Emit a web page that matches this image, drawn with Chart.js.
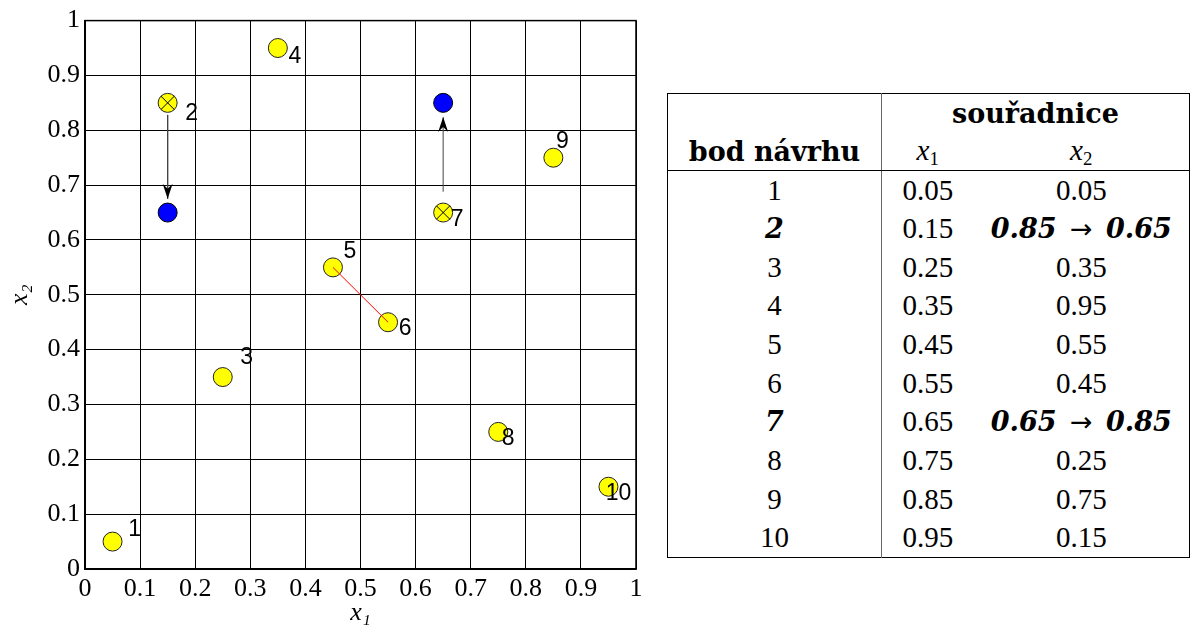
<!DOCTYPE html>
<html><head><meta charset="utf-8">
<script src="https://cdn.jsdelivr.net/npm/chart.js@4.4.1/dist/chart.umd.min.js"></script>
<style>
html,body{margin:0;padding:0;background:#fff;width:1195px;height:637px;overflow:hidden;}
#wrap{position:absolute;left:0;top:0;width:660px;height:637px;}
#tbl{position:absolute;left:667px;top:93px;width:523px;border-collapse:collapse;border:1.5px solid #000;
  font-family:"Liberation Serif","Times New Roman",serif;font-size:29px;color:#000;table-layout:fixed;}
#tbl td,#tbl th{padding:0;text-align:center;vertical-align:middle;white-space:nowrap;}
#tbl th{font-family:"DejaVu Serif",serif;font-weight:bold;font-size:27px;}
#tbl .c1{border-right:1.5px solid #666;}
#tbl tr.h1{height:40px;}
#tbl tr.h2{height:37px;}
#tbl tr.h2 th{border-bottom:1.5px solid #000;}
#tbl tr.h2 th.var{font-family:"Liberation Serif","Times New Roman",serif;font-weight:normal;font-size:29px;}
#tbl tbody tr{height:38.7px;}
#tbl .mv{font-family:"DejaVu Serif",serif;font-weight:bold;font-style:italic;font-size:27px;word-spacing:4px;}
#tbl .mv .ar{font-family:"DejaVu Sans",sans-serif;font-style:normal;font-weight:normal;}
sub{font-size:65%;vertical-align:-0.25em;}
</style></head>
<body>
<div id="wrap"><canvas id="c" width="660" height="637"></canvas></div>
<table id="tbl">
<colgroup><col style="width:214px"><col style="width:92px"><col></colgroup>
<thead>
<tr class="h1"><th class="c1"></th><th colspan="2">souřadnice</th></tr>
<tr class="h2"><th class="c1">bod návrhu</th><th class="var"><i>x</i><sub>1</sub></th><th class="var"><i>x</i><sub>2</sub></th></tr>
</thead>
<tbody id="tb"></tbody>
</table>
<script>
// ---- data ----
const pointNames = ['1','2','3','4','5','6','7','8','9','10'];
const x1Values = [0.05,0.15,0.25,0.35,0.45,0.55,0.65,0.75,0.85,0.95];
const x2Values = [0.05,0.85,0.35,0.95,0.55,0.45,0.65,0.25,0.75,0.15];
const movedIndex = [1, 6];          // points 2 and 7
const movedX2 = [0.65, 0.85];       // new x2 values
const arrowStartX2 = [0.828, 0.688];
const arrowEndX2 = [0.675, 0.824];
const linkedPair = [4, 5];          // points 5 and 6
const tickValues = [0,0.1,0.2,0.3,0.4,0.5,0.6,0.7,0.8,0.9,1];
const tickLabels = ['0','0.1','0.2','0.3','0.4','0.5','0.6','0.7','0.8','0.9','1'];

// ---- style (label pixel offsets) ----
const labelOffsetPx = [[22,-12],[24,11],[24,-19],[17,9],[17,-16],[17,6],[14,7],[10,7],[9,-16],[10,7]];

// ---- table ----
const tb = document.getElementById('tb');
pointNames.forEach((n,i)=>{
  const tr = document.createElement('tr');
  const k = movedIndex.indexOf(i);
  const td1 = document.createElement('td'); td1.className='c1';
  td1.textContent = n;
  if (k>=0) td1.classList.add('mv');
  const td2 = document.createElement('td'); td2.textContent = x1Values[i].toFixed(2);
  const td3 = document.createElement('td');
  if (k>=0){
    td3.className='mv';
    td3.append(x2Values[i].toFixed(2)+' ');
    const ar = document.createElement('span'); ar.className='ar'; ar.textContent='\u2192';
    td3.append(ar, ' '+movedX2[k].toFixed(2));
  } else td3.textContent = x2Values[i].toFixed(2);
  tr.append(td1,td2,td3); tb.appendChild(tr);
});

// ---- chart ----
const pts = x1Values.map((x,i)=>({x, y:x2Values[i]}));
const serif = 'Liberation Serif';
Chart.defaults.font.family = serif;
Chart.defaults.font.size = 26;
Chart.defaults.color = '#000';

const decor = {
  id:'decor',
  afterDatasetsDraw(chart){
    const {ctx, chartArea:a, scales:{x,y}} = chart;
    ctx.save();
    ctx.strokeStyle='#000'; ctx.lineWidth=1.5;
    ctx.strokeRect(a.left, a.top, a.right-a.left, a.bottom-a.top);
    ctx.fillStyle='#000';
    movedIndex.forEach((idx,k)=>{
      const px = x.getPixelForValue(x1Values[idx]);
      const tip = y.getPixelForValue(arrowEndX2[k]);
      const from = y.getPixelForValue(arrowStartX2[k]);
      const d = tip>from ? 1 : -1;
      ctx.beginPath();
      ctx.moveTo(px, tip);
      ctx.lineTo(px-5, tip-d*15);
      ctx.lineTo(px, tip-d*10);
      ctx.lineTo(px+5, tip-d*15);
      ctx.closePath(); ctx.fill();
    });
    ctx.font = '23px "Liberation Sans", Arial, sans-serif';
    ctx.textAlign='center'; ctx.textBaseline='middle'; ctx.fillStyle='#000';
    pointNames.forEach((n,i)=>{
      const px = x.getPixelForValue(x1Values[i]) + labelOffsetPx[i][0];
      const py = y.getPixelForValue(x2Values[i]) + labelOffsetPx[i][1];
      ctx.fillText(n, px, py);
    });
    ctx.restore();
  }
};

const axisCommon = {
  type:'linear', min:0, max:1,
  afterBuildTicks: s=>{ s.ticks = tickValues.map(v=>({value:v})); },
  grid:{color:'#000', lineWidth:1, drawTicks:false},
  border:{color:'#000', width:1.5},
  ticks:{color:'#000', font:{family:serif, size:26}, autoSkip:false, maxRotation:0,
         callback:(v,i)=>tickLabels[i]}
};

new Chart(document.getElementById('c'), {
  type:'scatter',
  data:{datasets:[
    {label:'link', data:[pts[linkedPair[0]], pts[linkedPair[1]]], showLine:true, borderColor:'#ff0000', borderWidth:1, pointRadius:0},
    {label:'arrow 2', data:[{x:x1Values[movedIndex[0]], y:arrowStartX2[0]},{x:x1Values[movedIndex[0]], y:arrowEndX2[0]}], showLine:true, borderColor:'#444', borderWidth:1, pointRadius:0},
    {label:'arrow 7', data:[{x:x1Values[movedIndex[1]], y:arrowStartX2[1]},{x:x1Values[movedIndex[1]], y:arrowEndX2[1]}], showLine:true, borderColor:'#444', borderWidth:1, pointRadius:0},
    {label:'changed', data:movedIndex.map(i=>pts[i]), pointStyle:'crossRot', pointRadius:9.5, borderColor:'#000', borderWidth:1},
    {label:'design points', data:pts, pointRadius:9.5, backgroundColor:'#ffff00', borderColor:'#222', borderWidth:1},
    {label:'moved', data:movedIndex.map((i,k)=>({x:x1Values[i], y:movedX2[k]})), pointRadius:9.5, backgroundColor:'#0000ff', borderColor:'#000', borderWidth:1}
  ]},
  options:{
    responsive:false, animation:false, events:[],
    layout:{padding:{left:0, top:18, right:24, bottom:0}},
    plugins:{legend:{display:false}, tooltip:{enabled:false}},
    scales:{
      x:{...axisCommon, afterFit:s=>{s.height=68;},
         ticks:{...axisCommon.ticks, padding:5},
         title:{display:true, text:'x\u2081', color:'#000', font:{family:serif, size:26, style:'italic'}, padding:{top:0,bottom:8}}},
      y:{...axisCommon, afterFit:s=>{s.width=85;},
         ticks:{...axisCommon.ticks, padding:5},
         title:{display:true, text:'x\u2082', color:'#000', font:{family:serif, size:26, style:'italic'}, padding:{top:5,bottom:0}}}
    }
  },
  plugins:[decor]
});
</script>
</body></html>
